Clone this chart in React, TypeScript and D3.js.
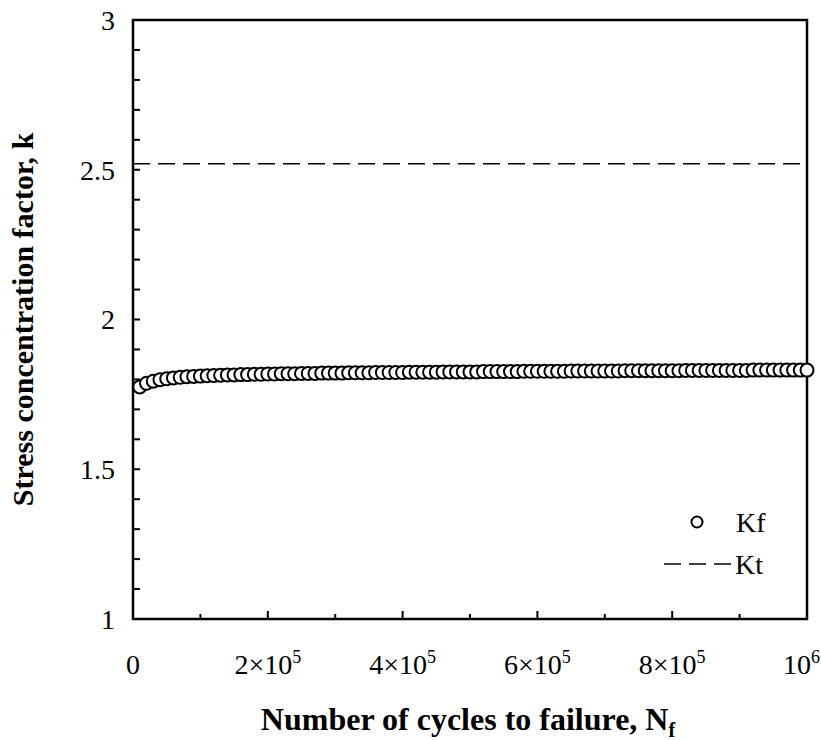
import React from "react";
import * as d3 from "d3";

const cycles: number[] = d3.range(1, 101).map((i) => i * 1e4);
const kfValues: number[] = [
  1.775, 1.787, 1.794, 1.799, 1.802, 1.805, 1.807, 1.809, 1.810, 1.811,
  1.812, 1.813, 1.814, 1.815, 1.815, 1.816, 1.816, 1.817, 1.817, 1.818,
  1.818, 1.819, 1.819, 1.819, 1.820, 1.820, 1.820, 1.821, 1.821, 1.821,
  1.821, 1.822, 1.822, 1.822, 1.822, 1.823, 1.823, 1.823, 1.823, 1.823,
  1.824, 1.824, 1.824, 1.824, 1.824, 1.825, 1.825, 1.825, 1.825, 1.825,
  1.825, 1.826, 1.826, 1.826, 1.826, 1.826, 1.826, 1.827, 1.827, 1.827,
  1.827, 1.827, 1.827, 1.827, 1.828, 1.828, 1.828, 1.828, 1.828, 1.828,
  1.828, 1.828, 1.829, 1.829, 1.829, 1.829, 1.829, 1.829, 1.829, 1.829,
  1.829, 1.830, 1.830, 1.830, 1.830, 1.830, 1.830, 1.830, 1.830, 1.830,
  1.830, 1.831, 1.831, 1.831, 1.831, 1.831, 1.831, 1.831, 1.831, 1.831,
];
const ktValue = 2.52;

const xTickValues: number[] = [0, 2e5, 4e5, 6e5, 8e5, 1e6];
const xTickBases: string[] = ["0", "2×10", "4×10", "6×10", "8×10", "10"];
const xTickExps: string[] = ["", "5", "5", "5", "5", "6"];
const xMinorTicks: number[] = d3.range(1, 10).map((i) => i * 1e5);
const yTickValues: number[] = [1, 1.5, 2, 2.5, 3];
const yTickLabels: string[] = ["1", "1.5", "2", "2.5", "3"];
const yMinorTicks: number[] = d3.range(11, 30).map((i) => i / 10);

const seriesNames = ["Kf", "Kt"];

const W = 821;
const H = 740;
const L = 133;
const R = 807;
const T = 20;
const B = 619;
const FONT = "'Liberation Serif', 'Times New Roman', serif";

export default function App() {
  const x = d3.scaleLinear().domain([0, 1e6]).range([L, R]);
  const y = d3.scaleLinear().domain([1, 3]).range([B, T]);

  return (
    <svg width={W} height={H} style={{ position: "absolute", left: 0, top: 0, background: "#fff", fontFamily: FONT }}>
      <rect x={0} y={0} width={W} height={H} fill="#fff" />
      <line x1={x(0)} x2={x(1e6)} y1={y(ktValue)} y2={y(ktValue)} stroke="#000" strokeWidth={1.6} strokeDasharray="17,8" />
      {yMinorTicks.map((v) => (
        <line key={"ym" + v} x1={L} x2={L + 7} y1={y(v)} y2={y(v)} stroke="#000" strokeWidth={2} />
      ))}
      {xMinorTicks.map((v, i) => (
        <line key={"xm" + v} x1={x(v)} x2={x(v)} y1={B} y2={B - (i % 2 === 1 ? 8 : 5)} stroke="#000" strokeWidth={2} />
      ))}
      <rect x={L} y={T} width={R - L} height={B - T} fill="none" stroke="#000" strokeWidth={2.5} />
      {yTickValues.map((v, i) => (
        <text key={"yl" + v} x={L - 18} y={y(v)} dy="0.35em" textAnchor="end" fontSize={28} fill="#000">
          {yTickLabels[i]}
        </text>
      ))}
      {xTickValues.map((v, i) => {
        const last = i === xTickValues.length - 1;
        return (
          <text key={"xl" + v} x={last ? W - 1 : x(v)} y={B + 55} textAnchor={last ? "end" : "middle"} fontSize={28} fill="#000">
            {xTickBases[i]}
            {xTickExps[i] && (
              <tspan fontSize={18} dy={-11}>
                {xTickExps[i]}
              </tspan>
            )}
          </text>
        );
      })}
      {cycles.map((c, i) => (
        <circle key={"kf" + c} cx={x(c)} cy={y(kfValues[i])} r={6.5} fill="#fff" stroke="#000" strokeWidth={2} />
      ))}
      <circle cx={697} cy={522} r={5.5} fill="#fff" stroke="#000" strokeWidth={2} />
      <text x={736} y={522} dy="0.35em" fontSize={28} fill="#000">{seriesNames[0]}</text>
      <line x1={664} x2={731} y1={564} y2={564} stroke="#000" strokeWidth={1.6} strokeDasharray="17,8" />
      <text x={735} y={564} dy="0.35em" fontSize={28} fill="#000">{seriesNames[1]}</text>
      <text x={468} y={730} textAnchor="middle" fontSize={32} fontWeight="bold" fill="#000">
        Number of cycles to failure, N
        <tspan fontSize={20} dy={7}>f</tspan>
      </text>
      <text transform={`translate(33, ${(T + B) / 2}) rotate(-90)`} textAnchor="middle" fontSize={30} fontWeight="bold" fill="#000">
        Stress concentration factor, k
      </text>
    </svg>
  );
}
